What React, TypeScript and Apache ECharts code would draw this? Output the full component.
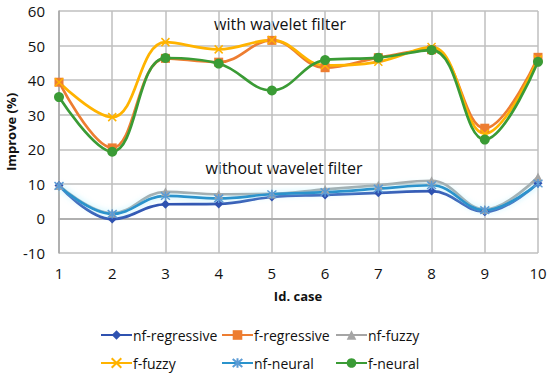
import React, { useEffect, useRef } from "react";
import * as echarts from "echarts";

const categories = ["1", "2", "3", "4", "5", "6", "7", "8", "9", "10"];
const nfRegressive = [9.5, -0.2, 4.1, 4.2, 6.2, 6.8, 7.4, 7.9, 1.9, 10.2];
const fRegressive = [39.4, 20.4, 46.3, 45.2, 51.5, 43.6, 46.5, 48.8, 26.1, 46.6];
const nfFuzzy = [9.5, 1.5, 7.7, 7.0, 7.1, 8.4, 9.6, 10.9, 2.6, 12.0];
const fFuzzy = [39.4, 29.3, 51.0, 48.9, 51.6, 44.3, 45.3, 49.6, 24.5, 46.0];
const nfNeural = [9.4, 1.3, 6.5, 5.8, 7.0, 7.6, 8.6, 9.6, 2.4, 10.1];
const fNeural = [35.1, 19.3, 46.4, 44.8, 37.0, 45.8, 46.5, 48.7, 22.8, 45.3];

const yTicks = { min: -10, max: 60, interval: 10 };

const CROSS = "path://M0,0L10,10M10,0L0,10";
const STAR = "path://M0,0L10,10M10,0L0,10M5,-1L5,11";

const FONT = "'Open Sans', 'Noto Sans', sans-serif";

export default function App() {
  const ref = useRef<HTMLDivElement>(null);
  useEffect(() => {
    const chart = echarts.init(ref.current!, null, { renderer: "svg" });
    const mk = (
      name: string,
      data: number[],
      color: string,
      symbol: string,
      symbolSize: number,
      extra: any = {}
    ) => ({
      name,
      type: "line",
      data,
      smooth: 0.4,
      symbol,
      symbolSize,
      showSymbol: true,
      lineStyle: { color, width: 2.7, ...(extra.lineStyle || {}) },
      itemStyle: { color: extra.markColor || color, borderColor: extra.markColor || color, borderWidth: extra.borderWidth ?? 0 },
      emphasis: { disabled: true },
    });
    const leg = (name: string, left: number, top: number) => ({
      orient: "horizontal",
      left,
      top,
      padding: 0,
      itemWidth: 31,
      itemHeight: 12,
      textStyle: { fontFamily: FONT, fontSize: 14, color: "#111", padding: [0, 0, 0, -4] },
      selectedMode: false,
      data: [name],
    });
    chart.setOption({
      animation: false,
      grid: { left: 59, right: 12, top: 11, bottom: 123, outerBoundsMode: "none", containLabel: false },
      xAxis: {
        type: "category",
        data: categories,
        boundaryGap: false,
        axisLine: { show: true, lineStyle: { color: "#A6A6A6", width: 1.5 } },
        axisTick: { show: false },
        axisLabel: { fontFamily: FONT, fontSize: 15, color: "#111", margin: 12 },
        splitLine: { show: true, lineStyle: { color: "#BFBFBF", width: 1.5 } },
      },
      yAxis: {
        type: "value",
        min: yTicks.min,
        max: yTicks.max,
        interval: yTicks.interval,
        name: "Improve (%)",
        nameLocation: "middle",
        nameGap: 42,
        nameMoveOverlap: false,
        nameTextStyle: { fontFamily: FONT, fontSize: 13, fontWeight: "bold", color: "#111" },
        axisLine: { show: true, lineStyle: { color: "#A6A6A6", width: 1.5 } },
        axisTick: { show: false },
        axisLabel: { fontFamily: FONT, fontSize: 15, color: "#111", margin: 14 },
        splitLine: { lineStyle: { color: "#BFBFBF", width: 1.5 } },
      },
      legend: [
        leg("nf-regressive", 100, 328),
        leg("f-fuzzy", 100, 356),
        leg("f-regressive", 221, 328),
        leg("nf-neural", 221, 356),
        leg("nf-fuzzy", 335, 328),
        leg("f-neural", 335, 356),
      ],
      graphic: [
        {
          type: "text",
          x: 280,
          y: 24,
          style: { text: "with wavelet filter", fontFamily: FONT, fontSize: 16, fill: "#111", align: "center", verticalAlign: "middle" },
        },
        {
          type: "text",
          x: 284,
          y: 168,
          style: { text: "without wavelet filter", fontFamily: FONT, fontSize: 16, fill: "#111", align: "center", verticalAlign: "middle" },
        },
        {
          type: "text",
          x: 298,
          y: 296,
          style: { text: "Id. case", fontFamily: FONT, fontSize: 13, fontWeight: "bold", fill: "#111", align: "center", verticalAlign: "middle" },
        },
      ],
      series: [
        mk("nf-regressive", nfRegressive, "#2F52B0", "diamond", 9),
        mk("f-regressive", fRegressive, "#ED7D31", "rect", 9),
        mk("nf-fuzzy", nfFuzzy, "#A5A5A5", "triangle", 9),
        mk("f-fuzzy", fFuzzy, "#FFB300", CROSS, 8, { borderWidth: 1.5 }),
        mk("nf-neural", nfNeural, "#2A93CC", STAR, 9, {
          borderWidth: 1.5,
          markColor: "#5B9BD5",
          lineStyle: { shadowColor: "rgba(150,235,255,0.9)", shadowBlur: 6 },
        }),
        mk("f-neural", fNeural, "#3A9B35", "circle", 10),
      ],
    });
    return () => chart.dispose();
  }, []);
  return <div ref={ref} style={{ width: 550, height: 376, position: "absolute", left: 0, top: 0 }} />;
}
